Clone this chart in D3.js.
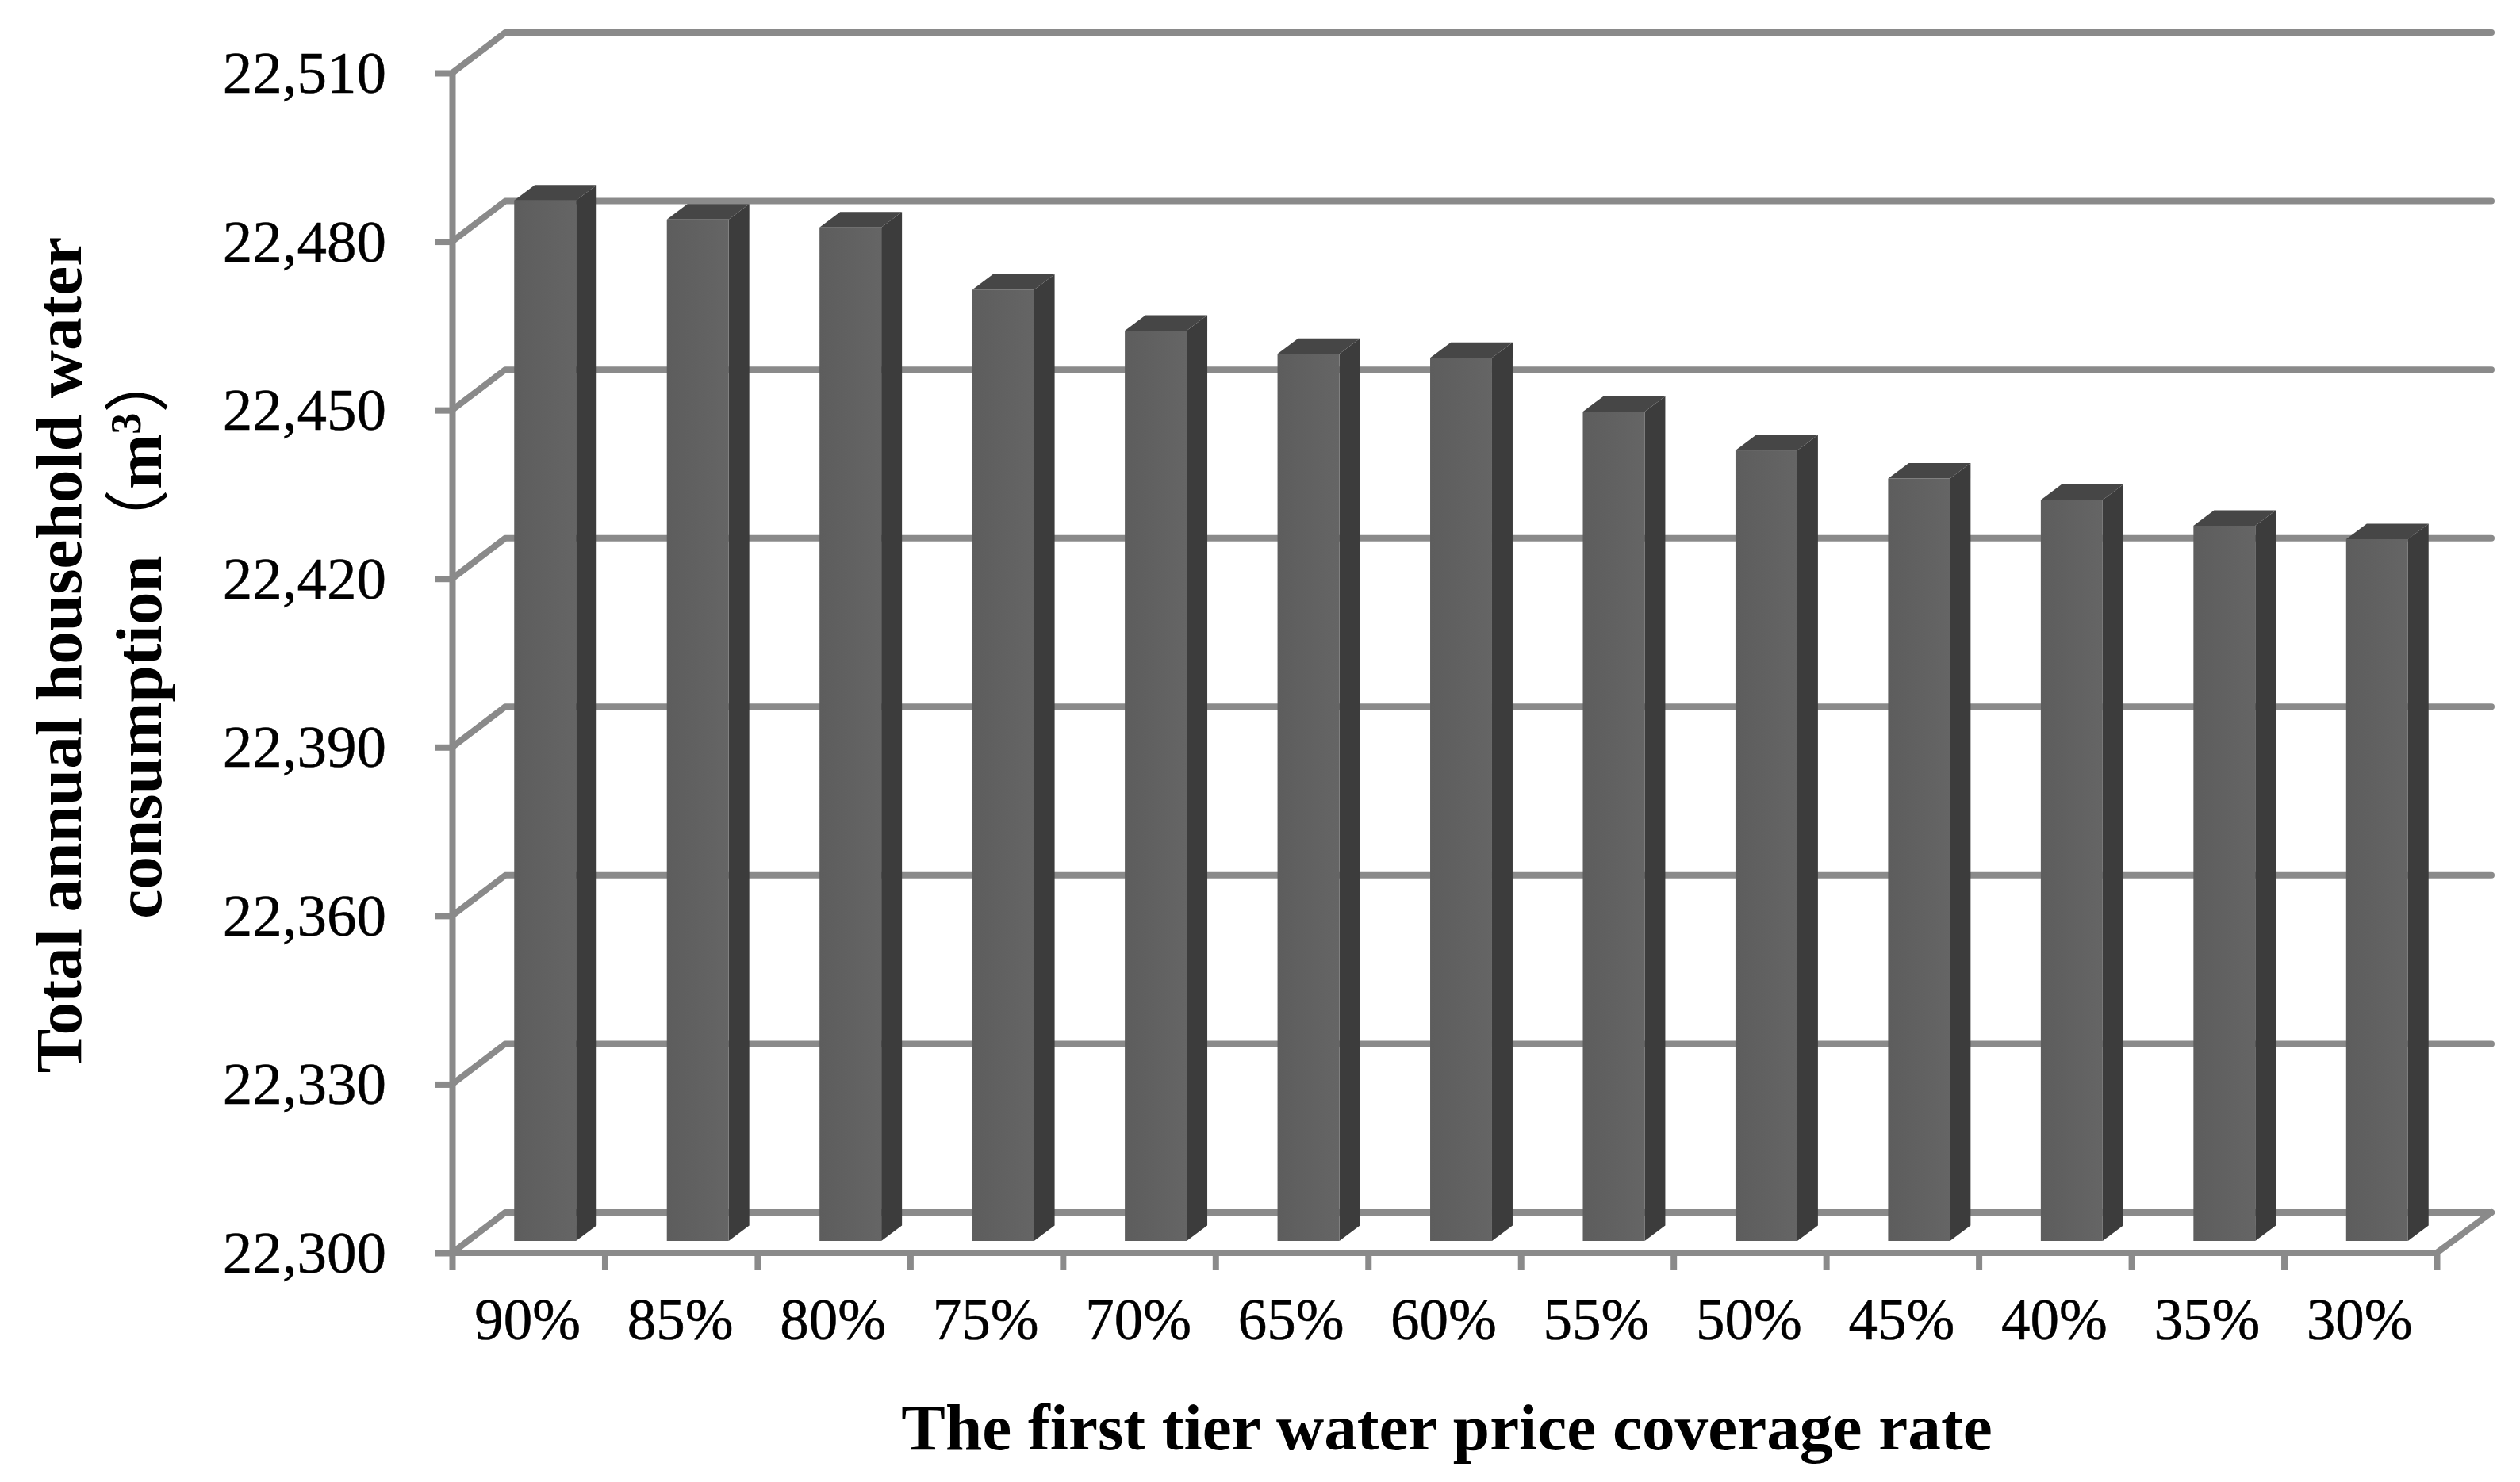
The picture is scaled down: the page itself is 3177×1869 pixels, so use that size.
<!DOCTYPE html>
<html><head><meta charset="utf-8">
<script src="https://cdnjs.cloudflare.com/ajax/libs/d3/7.8.5/d3.min.js"></script>
<style>
html,body{margin:0;padding:0;background:#fff}
svg{display:block}
text{font-family:"Liberation Serif","Times New Roman",serif;fill:#000}
.axis .domain,.axis line{stroke:#8a8a8a;stroke-width:8px;fill:none}
</style></head><body><svg id="c" width="3177" height="1869"></svg>
<script>
const categories=["90%","85%","80%","75%","70%","65%","60%","55%","50%","45%","40%","35%","30%"];
const values=[22485.2,22481.8,22480.4,22469.3,22462,22457.9,22457.2,22447.6,22440.7,22435.7,22431.9,22427.3,22424.9];
const yTicks=[22300,22330,22360,22390,22420,22450,22480,22510];
const xTitle="The first tier water price coverage rate";
const yTitleLine1="Total annual household water";
const yTitleLine2="consumption";

const plotLeft=570,plotRight=3072,plotBottom=1580,plotTop=92;
const wallDx=69,wallDy=-51;      // oblique depth of the chart box
const floorDx=21,floorDy=-15;    // front face of bars sits this far into the box
const barDx=26,barDy=-19.5;        // bar depth
const grid="#8a8a8a";

const svg=d3.select("#c");
const x=d3.scaleBand().domain(categories).range([plotLeft,plotRight]).paddingInner(0.595).paddingOuter(0.2975);
const xEdges=d3.scaleLinear().domain([0,categories.length]).range([plotLeft,plotRight]);
const y=d3.scaleLinear().domain([22300,22510]).range([plotBottom,plotTop]);

const defs=svg.append("defs");
const g=defs.append("linearGradient").attr("id","front");
g.append("stop").attr("offset","0").attr("stop-color","#5d5d5d");
g.append("stop").attr("offset","1").attr("stop-color","#656565");

const lineGen=d3.line();
// wall grid lines
svg.append("g").selectAll("path").data(yTicks).join("path")
 .attr("d",t=>lineGen([[plotLeft,y(t)],[plotLeft+wallDx-2,y(t)+wallDy],[plotRight+wallDx,y(t)+wallDy]]))
 .attr("fill","none").attr("stroke",grid).attr("stroke-width",8).attr("stroke-linecap","round").attr("stroke-linejoin","round");
// floor right edge
svg.append("path").attr("d",lineGen([[plotRight,plotBottom],[plotRight+wallDx,plotBottom+wallDy]]))
 .attr("fill","none").attr("stroke",grid).attr("stroke-width",8).attr("stroke-linecap","round");

// axes
const yAxis=d3.axisLeft(y).tickValues(yTicks).tickSize(22).tickSizeOuter(0).tickPadding(61).tickFormat(d3.format(","));
const ya=svg.append("g").attr("class","axis").attr("transform",`translate(${plotLeft},0)`).call(yAxis);
ya.selectAll("text").attr("font-size",75).attr("dy","24.5px").attr("stroke","#000").attr("stroke-width",0.5);
const xe=svg.append("g").attr("class","axis").attr("transform",`translate(0,${plotBottom})`)
 .call(d3.axisBottom(xEdges).tickValues(d3.range(categories.length+1)).tickSize(22).tickSizeOuter(0).tickFormat(""));
xe.select(".domain").attr("d",`M${plotLeft-22},0H${plotRight}`);
const xl=svg.append("g").attr("class","axis").attr("transform",`translate(-1,${plotBottom})`)
 .call(d3.axisBottom(x).tickSize(0).tickPadding(0));
xl.select(".domain").remove();
xl.selectAll("text").attr("font-size",73).attr("dy",0).attr("y",109).attr("stroke","#000").attr("stroke-width",0.5);

// bars
const bars=svg.append("g").selectAll("g").data(categories.map((c,i)=>({c,v:values[i]}))).join("g")
 .attr("transform",`translate(${floorDx},${floorDy})`);
const xL=d=>x(d.c), xR=d=>x(d.c)+x.bandwidth();
bars.append("path").attr("fill","#3c3c3c")
 .attr("d",d=>lineGen([[xR(d),y(d.v)],[xR(d)+barDx,y(d.v)+barDy],[xR(d)+barDx,y(22300)+barDy],[xR(d),y(22300)]])+"Z");
bars.append("path").attr("fill","#464646")
 .attr("d",d=>lineGen([[xL(d),y(d.v)],[xL(d)+barDx,y(d.v)+barDy],[xR(d)+barDx,y(d.v)+barDy],[xR(d),y(d.v)]])+"Z");
bars.append("rect").attr("fill","url(#front)")
 .attr("x",xL).attr("width",x.bandwidth()).attr("y",d=>y(d.v)).attr("height",d=>y(22300)-y(d.v));

// titles
svg.append("text").attr("x",1824).attr("y",1828).attr("text-anchor","middle")
 .attr("font-size",83.3).attr("font-weight","bold").text(xTitle);
const t1=svg.append("text").attr("transform","translate(102,826) rotate(-90)").attr("text-anchor","middle")
 .attr("font-size",83.3).attr("font-weight","bold").text(yTitleLine1);
const t2=svg.append("text").attr("transform","translate(203,798) rotate(-90)").attr("text-anchor","middle")
 .attr("font-size",83.3).attr("font-weight","bold");
t2.append("tspan").text(yTitleLine2);
t2.append("tspan").attr("font-family","'Noto Sans CJK SC'").attr("font-weight","400").text("（");
t2.append("tspan").text("m");
t2.append("tspan").attr("font-size",54).attr("dy",-26).text("3");
t2.append("tspan").attr("dy",26).attr("font-family","'Noto Sans CJK SC'").attr("font-weight","400").text("）");
</script></body></html>
